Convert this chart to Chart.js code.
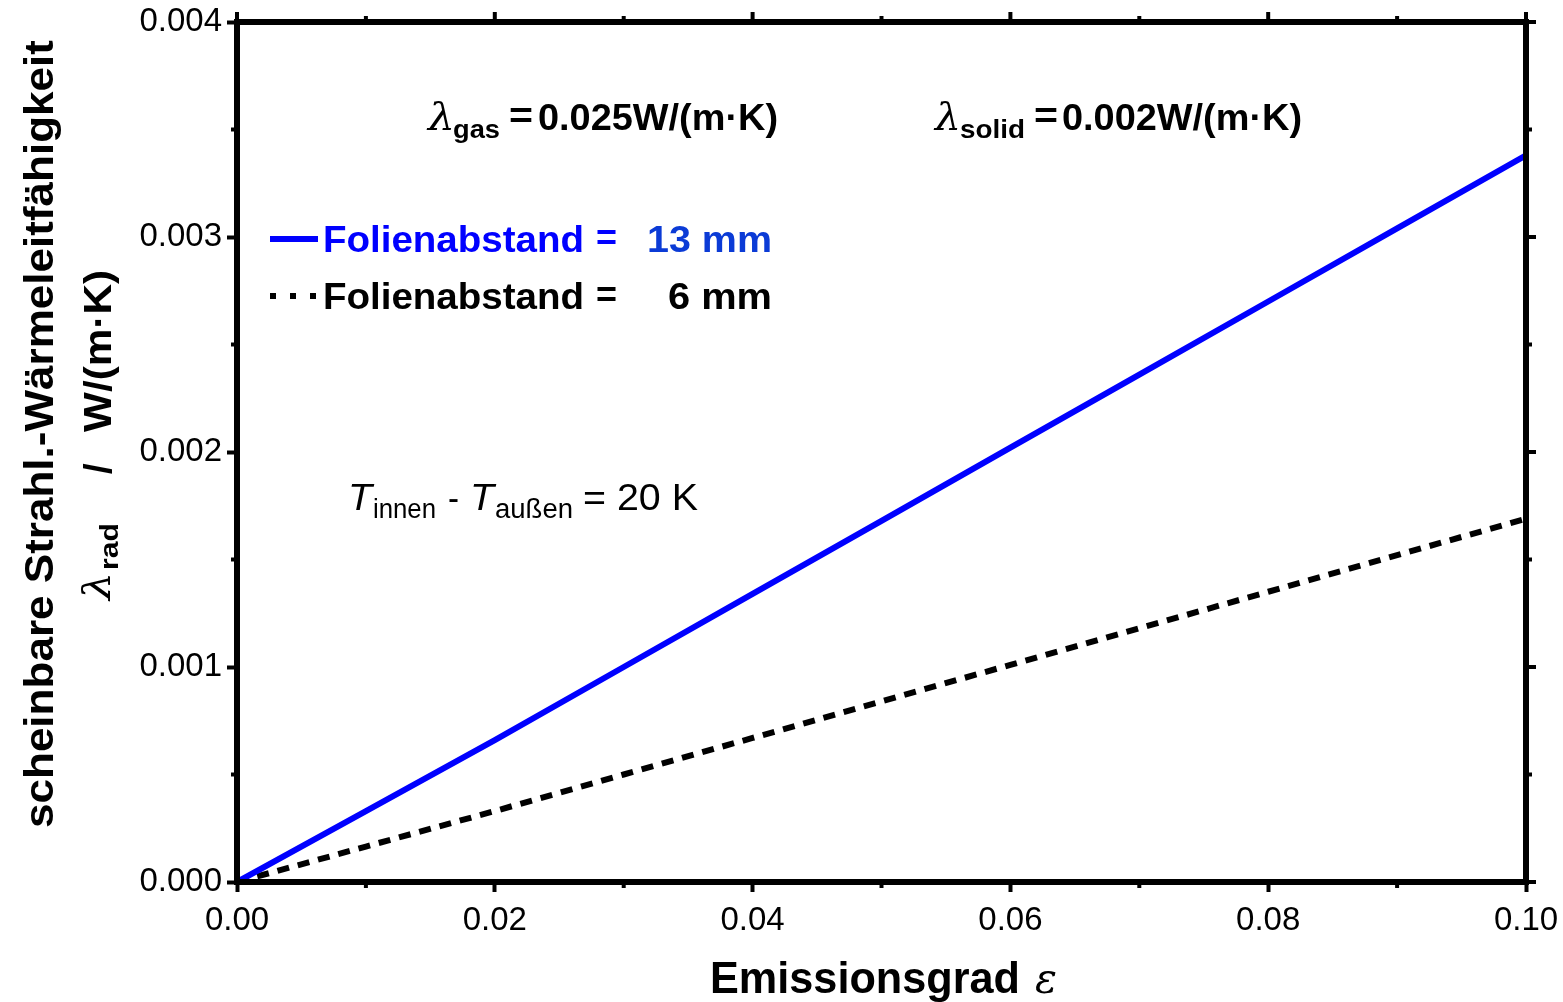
<!DOCTYPE html>
<html>
<head>
<meta charset="utf-8">
<script src="https://cdn.jsdelivr.net/npm/chart.js@4.4.1/dist/chart.umd.min.js"></script>
<style>
html,body{margin:0;padding:0;background:#fff;}
canvas{display:block;}
</style>
</head>
<body>
<canvas id="c" width="1563" height="1002"></canvas>
<script>
// ---- data ----
const emissivity = [0, 0.01, 0.02, 0.03, 0.04, 0.05, 0.06, 0.07, 0.08, 0.09, 0.10];
const lambda13mm = [0, 0.00033, 0.00066, 0.00100, 0.00134, 0.00168, 0.00202, 0.00236, 0.00270, 0.00304, 0.00338];
const lambda6mm  = [0, 0.000165, 0.00033, 0.00050, 0.00067, 0.00084, 0.00101, 0.00118, 0.00135, 0.00152, 0.00169];
const xTickLabels = ['0.00', '0.02', '0.04', '0.06', '0.08', '0.10'];
const yTickLabels = ['0.000', '0.001', '0.002', '0.003', '0.004'];
const seriesLabels = ['Folienabstand =  13 mm', 'Folienabstand =    6 mm'];

const SANS = '"Liberation Sans", Arial, Helvetica, sans-serif';
const SERIF = '"DejaVu Serif", "Liberation Serif", serif';

function fitText(ctx, str, x, base, font, width, color) {
  ctx.save();
  ctx.font = font;
  ctx.fillStyle = color || '#000';
  ctx.textAlign = 'left';
  ctx.textBaseline = 'alphabetic';
  const w = ctx.measureText(str).width;
  const sx = width ? width / w : 1;
  ctx.translate(x, base);
  ctx.scale(sx, 1);
  ctx.fillText(str, 0, 0);
  ctx.restore();
}

const decorations = {
  id: 'decorations',
  afterDatasetsDraw(chart) {
    const ctx = chart.ctx;
    const a = chart.chartArea;
    const xs = chart.scales.x, ys = chart.scales.y;
    ctx.save();
    // minor ticks + top/right ticks
    ctx.strokeStyle = '#000';
    ctx.lineWidth = 4;
    ctx.lineCap = 'butt';
    const line = (x1, y1, x2, y2) => { ctx.beginPath(); ctx.moveTo(x1, y1); ctx.lineTo(x2, y2); ctx.stroke(); };
    for (let i = 0; i <= 10; i++) {
      const v = i * 0.01;
      const px = xs.getPixelForValue(v);
      const major = i % 2 === 0;
      const L = major ? 10 : 6;
      if (!major) line(px, a.bottom, px, a.bottom + L);
      line(px, a.top, px, a.top - L);
    }
    for (let i = 0; i <= 8; i++) {
      const v = i * 0.0005;
      const py = ys.getPixelForValue(v);
      const major = i % 2 === 0;
      const L = major ? 10 : 6;
      if (!major) line(a.left, py, a.left - L, py);
      line(a.right, py, a.right + L, py);
    }
    // frame
    ctx.lineWidth = 6;
    ctx.strokeRect(a.left, a.top, a.right - a.left, a.bottom - a.top);

    // annotations
    fitText(ctx, 'λ', 428, 130, 'italic 38px ' + SERIF, 27);
    fitText(ctx, 'gas', 453, 138, 'bold 26px ' + SANS, 47);
    fitText(ctx, '=', 509, 128, 'bold 36px ' + SANS, 24);
    fitText(ctx, '0.025W/(m·K)', 538, 130, 'bold 36px ' + SANS, 240);

    fitText(ctx, 'λ', 935, 130, 'italic 38px ' + SERIF, 26);
    fitText(ctx, 'solid', 960, 138, 'bold 26px ' + SANS, 65);
    fitText(ctx, '=', 1034, 128, 'bold 36px ' + SANS, 24);
    fitText(ctx, '0.002W/(m·K)', 1062, 130, 'bold 36px ' + SANS, 240);

    // legend
    ctx.lineWidth = 6;
    ctx.strokeStyle = '#0000ff';
    line(270, 239, 318, 239);
    ctx.strokeStyle = '#000';
    ctx.setLineDash([6, 14]);
    line(270, 296, 318, 296);
    ctx.setLineDash([]);
    fitText(ctx, 'Folienabstand', 323, 252, 'bold 37px ' + SANS, 261, '#0000ff');
    fitText(ctx, '=', 596, 250, 'bold 37px ' + SANS, 21, '#0000ff');
    fitText(ctx, '13 mm', 647, 252, 'bold 37px ' + SANS, 125, '#0b3bd6');
    fitText(ctx, 'Folienabstand', 323, 309, 'bold 37px ' + SANS, 261, '#000');
    fitText(ctx, '=', 596, 307, 'bold 37px ' + SANS, 21, '#000');
    fitText(ctx, '6 mm', 668, 309, 'bold 37px ' + SANS, 104, '#000');

    // temperature difference
    fitText(ctx, 'T', 348, 510, 'italic 37px ' + SANS, 24);
    fitText(ctx, 'innen', 373, 518, '27px ' + SANS, 63);
    fitText(ctx, '-', 448, 510, '37px ' + SANS, 11);
    fitText(ctx, 'T', 470, 510, 'italic 37px ' + SANS, 24);
    fitText(ctx, 'außen', 495, 518, '27px ' + SANS, 78);
    fitText(ctx, '= 20 K', 583, 510, '37px ' + SANS, 115);

    // x axis title
    fitText(ctx, 'Emissionsgrad', 710, 993, 'bold 44px ' + SANS, 310);
    fitText(ctx, 'ε', 1035, 993, 'italic 42px ' + SERIF, 22);

    // y axis title (rotated)
    ctx.save();
    ctx.rotate(-Math.PI / 2);
    // local u = -screenY, v = screenX
    fitText(ctx, 'scheinbare Strahl.-Wärmeleitfähigkeit', -828, 53, 'bold 40px ' + SANS, 788);
    fitText(ctx, 'λ', -600, 110, 'italic 38px ' + SERIF, 28);
    fitText(ctx, 'rad', -570, 118, 'bold 26px ' + SANS, 47);
    fitText(ctx, '/', -474, 111, 'bold 38px ' + SANS, null);
    fitText(ctx, 'W/(m·K)', -432, 111, 'bold 38px ' + SANS, 162);
    ctx.restore();

    ctx.restore();
  }
};

const chart = new Chart(document.getElementById('c'), {
  type: 'line',
  data: {
    datasets: [
      {
        label: seriesLabels[0],
        data: emissivity.map((e, i) => ({ x: e, y: lambda13mm[i] })),
        borderColor: '#0000ff',
        borderWidth: 6,
        pointRadius: 0,
        tension: 0,
        fill: false
      },
      {
        label: seriesLabels[1],
        data: emissivity.map((e, i) => ({ x: e, y: lambda6mm[i] })),
        borderColor: '#000000',
        borderWidth: 6,
        borderDash: [12, 9],
        borderCapStyle: 'butt',
        pointRadius: 0,
        tension: 0,
        fill: false
      }
    ]
  },
  options: {
    responsive: false,
    animation: false,
    devicePixelRatio: 1,
    layout: { padding: { top: 22, right: 37, left: 0, bottom: 0 } },
    plugins: { legend: { display: false }, tooltip: { enabled: false } },
    scales: {
      x: {
        type: 'linear',
        min: 0, max: 0.1,
        afterFit(s) { s.height = 120; s.paddingLeft = 0; s.paddingRight = 0; },
        afterBuildTicks(s) { s.ticks = xTickLabels.map(t => ({ value: parseFloat(t) })); },
        ticks: {
          callback: (v, i) => xTickLabels[i],
          font: { family: SANS, size: 33 },
          color: '#000',
          padding: 9,
          maxRotation: 0,
          autoSkip: false
        },
        grid: { display: true, drawOnChartArea: false, drawTicks: true, tickLength: 10, tickWidth: 4, tickColor: '#000', color: '#000' },
        border: { display: false }
      },
      y: {
        type: 'linear',
        min: 0, max: 0.004,
        afterFit(s) { s.width = 237; s.paddingTop = 0; s.paddingBottom = 0; },
        afterBuildTicks(s) { s.ticks = yTickLabels.map(t => ({ value: parseFloat(t) })); },
        ticks: {
          callback: (v, i) => yTickLabels[i],
          font: { family: SANS, size: 33 },
          color: '#000',
          padding: 5,
          autoSkip: false
        },
        grid: { display: true, drawOnChartArea: false, drawTicks: true, tickLength: 10, tickWidth: 4, tickColor: '#000', color: '#000' },
        border: { display: false }
      }
    }
  },
  plugins: [decorations]
});
</script>
</body>
</html>
